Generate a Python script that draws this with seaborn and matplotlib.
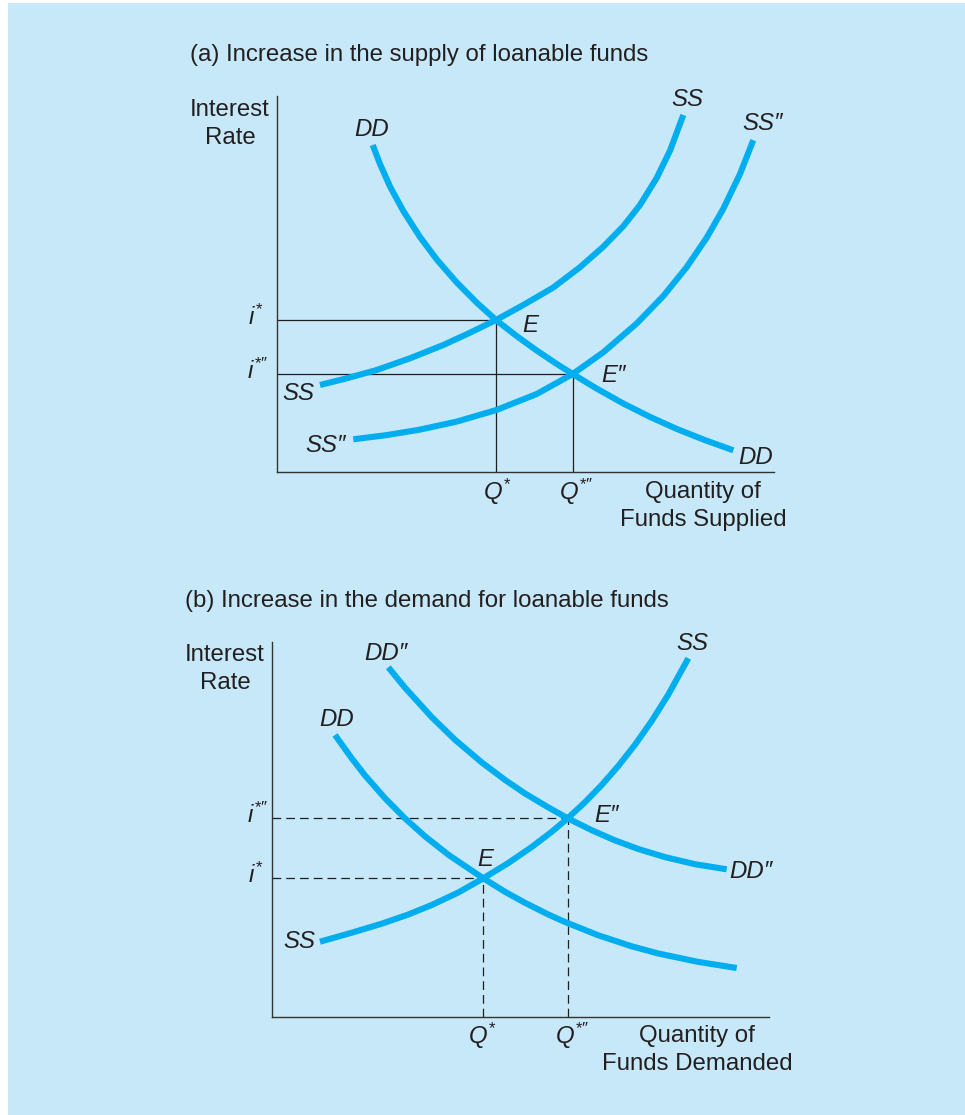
import numpy as np
import pandas as pd
import matplotlib
matplotlib.use("Agg")
import matplotlib.pyplot as plt
from matplotlib.patches import Rectangle
import seaborn as sns

# ----------------------------
# Data (arbitrary quantity / rate units)
# ----------------------------

# panel (a): supply shifts right
a_ss_x = [43, 69.7, 99.7, 133, 166.3, 193, 219, 246.3, 276.3, 303, 326.3, 346.3, 363, 379.7, 393, 406.3]
a_ss_y = [87, 93.7, 102, 113.7, 127, 139.3, 152, 167, 184.5, 204.8, 225.3, 245.8, 267, 294, 321.3, 357]

a_ss2_x = [76.3, 109.7, 143, 179.7, 219.7, 259.7, 295.7, 326.3, 359.7, 386.3, 409.7, 429.7, 446.3, 463, 476.3]
a_ss2_y = [32.7, 36.9, 42.4, 50.4, 62.1, 78, 98, 119.7, 148.5, 176, 204.9, 234.3, 263.3, 298, 331.8]

a_dd_x = [95.7, 103, 113, 126.3, 143, 159.7, 179.7, 199.7, 219, 239.7, 259.7, 279.7, 295.7, 319.7, 346.3, 373, 399.7, 426.3, 456.3]
a_dd_y = [327, 308, 285.5, 261, 235, 212.6, 189.6, 169.4, 152, 135.9, 121.5, 108.1, 98, 83.4, 68.5, 55.1, 43.1, 32.5, 21.7]

a_eq_q = [219, 295.7]   # Q*, Q*''
a_eq_i = [152, 98]      # i*, i*''

# panel (b): demand shifts right
b_ss_x = [48, 79.7, 109.7, 136.3, 159.7, 186.3, 211.3, 236.3, 259.7, 279.7, 295.7, 313, 329.7, 346.3, 363, 379.7, 396.3, 416.3]
b_ss_y = [75.3, 84.3, 93.3, 102.5, 112, 124.5, 138.7, 154, 170, 185.2, 198.7, 214.8, 232, 251, 272.3, 296, 322.4, 358.7]

b_dd_x = [63, 79.7, 93, 113, 133, 153, 176.3, 211.3, 233, 253, 276.3, 293, 326.3, 359.7, 386.3, 426.3, 464.7]
b_dd_y = [282, 258.7, 241.6, 218.8, 198.6, 180.7, 162.3, 138.7, 125.2, 114.2, 102.5, 95, 81.7, 70.7, 63.5, 55.1, 49]

b_dd2_x = [116.3, 133, 159.7, 183, 209.7, 233, 253, 276.3, 295.7, 319.7, 343, 366.3, 393, 423, 454.7]
b_dd2_y = [349.7, 329.3, 299.9, 277.3, 254.6, 237.1, 223.5, 209.6, 198.7, 186.8, 176.6, 168, 159.9, 152.8, 147.7]

b_eq_q = [211.3, 295.7]
b_eq_i = [138.7, 198.7]

I_STAR = "$i^{*}$"
I_STAR2 = "$i^{*\u2033}$"
Q_STAR = "$Q^{*}$"
Q_STAR2 = "$Q^{*\u2033}$"

# ----------------------------
# Style
# ----------------------------
sns.set_theme(style="white")
plt.rcParams["font.family"] = ["Liberation Sans", "DejaVu Sans"]
plt.rcParams["mathtext.fontset"] = "custom"
plt.rcParams["mathtext.it"] = "Liberation Sans:italic"
plt.rcParams["mathtext.rm"] = "Liberation Sans"
plt.rcParams["mathtext.fallback"] = "stixsans"

BG = "#c6e8f8"
CURVE = "#00aeef"
INK = "#231f20"
FS = 17.3
CURVE_LW = 4.4
GUIDE_LW = 0.9

fig = plt.figure(figsize=(9.65, 11.15), dpi=100)
fig.patch.set_facecolor("white")
fig.add_artist(Rectangle((8 / 965, 0), 1, 1112 / 1115, transform=fig.transFigure,
                         facecolor=BG, edgecolor="none", zorder=-10))

ax_a = fig.add_axes([277 / 965, (1115 - 472) / 1115, 497 / 965, 376 / 1115])
ax_b = fig.add_axes([272 / 965, (1115 - 1017) / 1115, 497 / 965, 375 / 1115])


def setup(ax, ymax):
    ax.set_xlim(0, 497)
    ax.set_ylim(0, ymax)
    ax.set_facecolor("none")
    sns.despine(ax=ax)
    for s in ["left", "bottom"]:
        ax.spines[s].set_color("#333333")
        ax.spines[s].set_linewidth(1.0)
    ax.set_xticks([])
    ax.set_yticks([])
    ax.set_xlabel("")
    ax.set_ylabel("")


def curve(ax, xs, ys):
    df = pd.DataFrame({"q": xs, "r": ys})
    sns.lineplot(data=df, x="q", y="r", ax=ax, color=CURVE, linewidth=CURVE_LW,
                 sort=False, estimator=None, solid_capstyle="butt",
                 solid_joinstyle="round", zorder=3)


def lab(ax, x, y, s, style="italic", ha="center"):
    ax.text(x, y, s, fontsize=FS, style=style, ha=ha, va="center", color=INK, clip_on=False)


# ----------------------------
# Panel (a)
# ----------------------------
for q, i in zip(a_eq_q, a_eq_i):
    ax_a.plot([0, q], [i, i], color=INK, lw=GUIDE_LW, zorder=2)
    ax_a.plot([q, q], [0, i], color=INK, lw=GUIDE_LW, zorder=2)
curve(ax_a, a_ss_x, a_ss_y)
curve(ax_a, a_ss2_x, a_ss2_y)
curve(ax_a, a_dd_x, a_dd_y)
setup(ax_a, 376)

ax_a.text(-87, 417, "(a) Increase in the supply of loanable funds", fontsize=FS,
          ha="left", va="center", color=INK, clip_on=False)
ax_a.text(-47, 348, "Interest\nRate", fontsize=FS, ha="center", va="center",
          color=INK, linespacing=1.4, clip_on=False)
lab(ax_a, 95, 342, "DD")
lab(ax_a, 410, 372, "SS")
lab(ax_a, 486, 348, "SS\u2033")
lab(ax_a, 21, 78, "SS")
lab(ax_a, 49, 27, "SS\u2033")
lab(ax_a, 253, 147, "E")
lab(ax_a, 337, 97, "E\u2033")
lab(ax_a, 479, 15, "DD")
lab(ax_a, -14, a_eq_i[0] + 3, I_STAR, ha="right")
lab(ax_a, -9, a_eq_i[1] + 3, I_STAR2, ha="right")
lab(ax_a, a_eq_q[0] + 1, -20, Q_STAR)
lab(ax_a, a_eq_q[1] + 4, -20, Q_STAR2)
ax_a.text(426, -34, "Quantity of\nFunds Supplied", fontsize=FS, ha="center", va="center",
          color=INK, linespacing=1.4, clip_on=False)

# ----------------------------
# Panel (b)
# ----------------------------
for q, i in zip(b_eq_q, b_eq_i):
    ax_b.plot([0, q], [i, i], color=INK, lw=GUIDE_LW, ls=(0, (7, 4)), zorder=2)
    ax_b.plot([q, q], [0, i], color=INK, lw=GUIDE_LW, ls=(0, (7, 4)), zorder=2)
curve(ax_b, b_ss_x, b_ss_y)
curve(ax_b, b_dd_x, b_dd_y)
curve(ax_b, b_dd2_x, b_dd2_y)
setup(ax_b, 375)

ax_b.text(-87, 416, "(b) Increase in the demand for loanable funds", fontsize=FS,
          ha="left", va="center", color=INK, clip_on=False)
ax_b.text(-47, 348, "Interest\nRate", fontsize=FS, ha="center", va="center",
          color=INK, linespacing=1.4, clip_on=False)
lab(ax_b, 114, 364, "DD\u2033")
lab(ax_b, 65, 297, "DD")
lab(ax_b, 420, 373, "SS")
lab(ax_b, 335, 201, "E\u2033")
lab(ax_b, 213, 157, "E")
lab(ax_b, 479, 146, "DD\u2033")
lab(ax_b, 27, 75, "SS")
lab(ax_b, -4, b_eq_i[1] + 3, I_STAR2, ha="right")
lab(ax_b, -9, b_eq_i[0] + 3, I_STAR, ha="right")
lab(ax_b, b_eq_q[0] - 1, -19, Q_STAR)
lab(ax_b, b_eq_q[1] + 5, -19, Q_STAR2)
ax_b.text(425, -33, "Quantity of\nFunds Demanded", fontsize=FS, ha="center", va="center",
          color=INK, linespacing=1.4, clip_on=False)

fig.savefig("out.png", dpi=100)
